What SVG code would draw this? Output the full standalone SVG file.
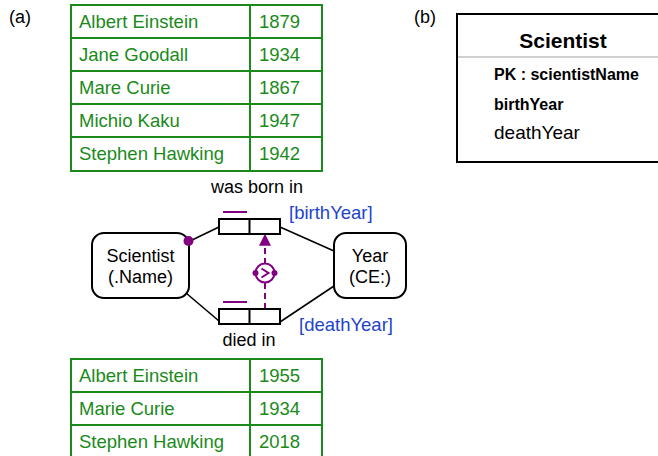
<svg xmlns="http://www.w3.org/2000/svg" width="658" height="456" viewBox="0 0 658 456">
<style>
text{font-family:"Liberation Sans",Arial,sans-serif;}
.tbl{fill:#fff;stroke:#1a8a1a;stroke-width:2}
.tt{fill:#1a8a1a;font-size:18.5px}
.lab{fill:#000;font-size:18px}
.blue{fill:#2244cc;font-size:18.5px}
.node{fill:#fff;stroke:#000;stroke-width:2}
.fact{fill:#fff;stroke:#000;stroke-width:2}
.ln{stroke:#000;stroke-width:1.6;fill:none}
.pu{stroke:#800080;stroke-width:2;fill:none}
</style>
<defs>
<marker id="arr" viewBox="0 0 10 10" refX="9" refY="5" markerWidth="6" markerHeight="6" orient="auto" markerUnits="strokeWidth">
<path d="M0,0 L10,5 L0,10 z" fill="#800080"/>
</marker>
</defs>
<rect width="658" height="456" fill="#fff"/>
<text x="9" y="23" class="lab">(a)</text>
<text x="414" y="23" class="lab">(b)</text>

<g id="table-birth">
<rect x="71" y="5" width="251" height="166" class="tbl"/>
<line x1="250" y1="5" x2="250" y2="171" class="tbl"/>
<line x1="71" y1="38" x2="322" y2="38" class="tbl"/>
<line x1="71" y1="71" x2="322" y2="71" class="tbl"/>
<line x1="71" y1="104" x2="322" y2="104" class="tbl"/>
<line x1="71" y1="137" x2="322" y2="137" class="tbl"/>
<text x="79" y="28" class="tt">Albert Einstein</text><text x="259" y="28" class="tt">1879</text>
<text x="79" y="61" class="tt">Jane Goodall</text><text x="259" y="61" class="tt">1934</text>
<text x="79" y="94" class="tt">Mare Curie</text><text x="259" y="94" class="tt">1867</text>
<text x="79" y="127" class="tt">Michio Kaku</text><text x="259" y="127" class="tt">1947</text>
<text x="79" y="160" class="tt">Stephen Hawking</text><text x="259" y="160" class="tt">1942</text>
</g>

<g id="table-death">
<rect x="71" y="359" width="251" height="110" class="tbl"/>
<line x1="250" y1="359" x2="250" y2="469" class="tbl"/>
<line x1="71" y1="392" x2="322" y2="392" class="tbl"/>
<line x1="71" y1="425" x2="322" y2="425" class="tbl"/>
<text x="79" y="382" class="tt">Albert Einstein</text><text x="259" y="382" class="tt">1955</text>
<text x="79" y="415" class="tt">Marie Curie</text><text x="259" y="415" class="tt">1934</text>
<text x="79" y="448" class="tt">Stephen Hawking</text><text x="259" y="448" class="tt">2018</text>
</g>

<g id="connectors">
<line x1="190" y1="241" x2="219" y2="227" class="ln"/>
<line x1="186" y1="293" x2="219" y2="321" class="ln"/>
<line x1="280" y1="227" x2="334" y2="251" class="ln"/>
<line x1="280" y1="322" x2="334" y2="286" class="ln"/>
<line x1="265" y1="309" x2="265" y2="282" class="pu" stroke-dasharray="6,4"/>
<line x1="265" y1="264" x2="265" y2="235" class="pu" stroke-dasharray="6,4" marker-end="url(#arr)"/>
</g>

<g id="scientist">
<rect x="92" y="233" width="97" height="65" rx="12" class="node"/>
<text x="140.5" y="262" class="lab" text-anchor="middle">Scientist</text>
<text x="140.5" y="283" class="lab" text-anchor="middle">(.Name)</text>
<circle cx="188.5" cy="241" r="5" fill="#800080"/>
</g>

<g id="year">
<rect x="334" y="233" width="72" height="65" rx="12" class="node"/>
<text x="370" y="262" class="lab" text-anchor="middle">Year</text>
<text x="370" y="283" class="lab" text-anchor="middle">(CE:)</text>
</g>

<g id="fact-born">
<rect x="219" y="219" width="61" height="15" class="fact"/>
<line x1="249.5" y1="219" x2="249.5" y2="234" class="fact"/>
<line x1="223" y1="212" x2="247" y2="212" class="pu"/>
<text x="257" y="193" class="lab" text-anchor="middle">was born in</text>
<text x="289" y="219" class="blue">[birthYear]</text>
</g>

<g id="fact-died">
<rect x="219" y="309" width="61" height="15" class="fact"/>
<line x1="249.5" y1="309" x2="249.5" y2="324" class="fact"/>
<line x1="223" y1="302" x2="247" y2="302" class="pu"/>
<text x="249" y="346" class="lab" text-anchor="middle">died in</text>
<text x="299" y="331" class="blue">[deathYear]</text>
</g>

<g id="subset">
<circle cx="265" cy="273" r="9.5" fill="#fff" stroke="#800080" stroke-width="2"/>
<circle cx="255.5" cy="273" r="3" fill="#800080"/>
<circle cx="274.5" cy="273" r="3" fill="#800080"/>
<path d="M261.5,268.5 L268.5,273 L261.5,277.5" class="pu" stroke-width="1.6"/>
</g>

<g id="entity-scientist">
<rect x="457" y="14" width="210" height="148" fill="#fff" stroke="#000" stroke-width="2"/>
<line x1="458" y1="57" x2="658" y2="57" stroke="#d0d0d0" stroke-width="2"/>
<text x="563" y="48" font-size="21" font-weight="bold" text-anchor="middle" fill="#000">Scientist</text>
<text x="494" y="80" font-size="16" font-weight="bold" fill="#000">PK : scientistName</text>
<text x="494" y="110" font-size="16" font-weight="bold" fill="#000">birthYear</text>
<text x="494" y="139" font-size="19" fill="#000">deathYear</text>
</g>
</svg>
